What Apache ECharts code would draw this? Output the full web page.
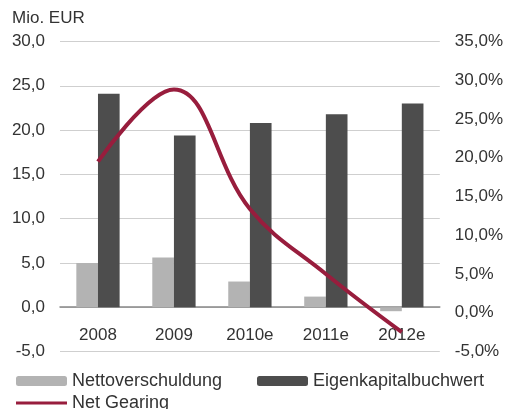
<!DOCTYPE html>
<html>
<head>
<meta charset="utf-8">
<script src="https://cdn.jsdelivr.net/npm/echarts@6/dist/echarts.min.js"></script>
<style>
  html, body { margin: 0; padding: 0; background: #fff; }
  #chart { width: 506px; height: 409px; }
</style>
</head>
<body>
<div id="chart"></div>
<script>
var years = ['2008', '2009', '2010e', '2011e', '2012e'];
var nettoverschuldung = [5.0, 5.6, 2.9, 1.2, -0.45];
var eigenkapital = [24.1, 19.4, 20.8, 21.8, 23.0];
var netGearing = [19.5, 28.8, 13.4, 5.0, -2.5];

var myChart = echarts.init(document.getElementById('chart'));
var font = 'Liberation Sans';
var txt = '#333';

function komma(v) {
	return v.toFixed(1).replace('.', ',');
}

var legendBase = {
	itemWidth: 51,
	itemHeight: 10,
	textStyle: { fontSize: 18, color: txt }
};

option = {
	animation: false,
	textStyle: { fontFamily: font },
	grid: {
		left: 60,
		right: 66,
		top: 41.5,
		bottom: 57.5
	},
	legend: [
		Object.assign({ left: 11, top: 367, data: ['Nettoverschuldung'] }, legendBase),
		Object.assign({ left: 252, top: 367, data: ['Eigenkapitalbuchwert'] }, legendBase),
		Object.assign({ left: 11, top: 389, data: [{ name: 'Net Gearing', icon: 'path://M0,3.5 L51,3.5 L51,6.5 L0,6.5 Z' }] }, legendBase)
	],
	xAxis: {
		type: 'category',
		data: years,
		axisLine: { onZero: true, onZeroAxisIndex: 0, lineStyle: { color: '#888', width: 1.5 } },
		axisTick: { show: false },
		// labels sit just under the zero line, like in the source
		axisLabel: { fontSize: 17, color: txt, margin: -25 }
	},
	yAxis: [{
		type: 'value',
		name: 'Mio. EUR',
		nameLocation: 'end',
		nameGap: 15,
		nameTextStyle: { fontSize: 17, color: txt, align: 'left', padding: [0, 0, 0, -48] },
		min: -5,
		max: 30,
		interval: 5,
		axisLine: { show: false },
		axisTick: { show: false },
		axisLabel: { fontSize: 17, color: txt, margin: 15, formatter: komma },
		splitLine: { lineStyle: { color: '#cfcfcf', width: 1 } }
	}, {
		type: 'value',
		min: -5,
		max: 35,
		interval: 5,
		axisLine: { show: false },
		axisTick: { show: false },
		axisLabel: { fontSize: 17, color: txt, margin: 15, formatter: function(v) { return komma(v) + '%'; } },
		splitLine: { show: false }
	}],
	series: [{
		name: 'Nettoverschuldung',
		type: 'bar',
		data: nettoverschuldung,
		barGap: '0%',
		barCategoryGap: '43%',
		itemStyle: { color: '#b3b3b3' }
	}, {
		name: 'Eigenkapitalbuchwert',
		type: 'bar',
		data: eigenkapital,
		itemStyle: { color: '#4d4d4d' }
	}, {
		name: 'Net Gearing',
		type: 'line',
		yAxisIndex: 1,
		data: netGearing,
		smooth: 0.4,
		symbol: 'none',
		lineStyle: { color: '#981d3d', width: 4 },
		itemStyle: { color: '#981d3d' }
	}]
};

myChart.setOption(option);
</script>
</body>
</html>
